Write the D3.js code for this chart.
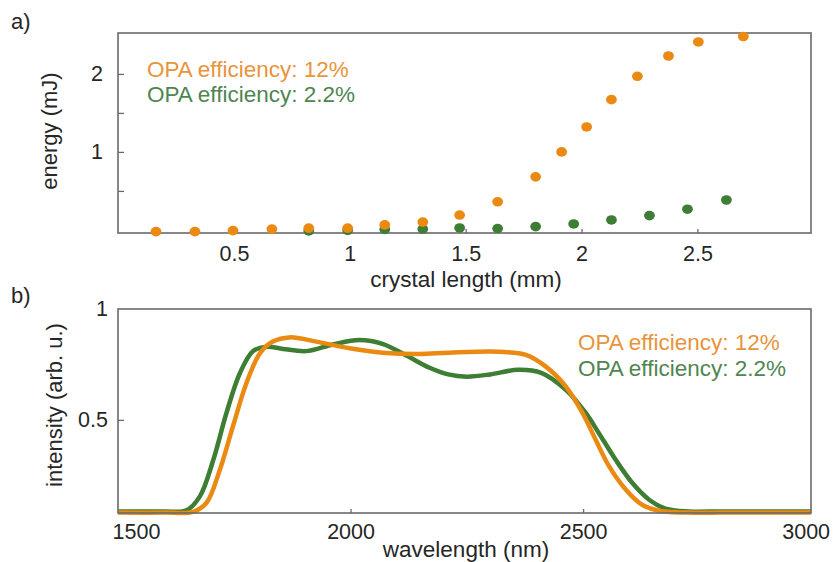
<!DOCTYPE html>
<html>
<head>
<meta charset="utf-8">
<script src="https://cdn.jsdelivr.net/npm/d3@7"></script>
<style>
  html, body { margin: 0; padding: 0; background: #fff; }
  svg { display: block; font-family: "Liberation Sans", Arial, sans-serif; }
</style>
</head>
<body>
<svg id="chart" width="833" height="562"></svg>
<script>
// ---------- Data: panel a) ----------
const lengthHigh = [0.164, 0.332, 0.496, 0.664, 0.823, 0.991, 1.151, 1.315, 1.474, 1.638, 1.802, 1.914, 2.022, 2.129, 2.241, 2.375, 2.504, 2.698];
const energyHigh = [-0.022, -0.022, -0.01, 0.01, 0.022, 0.022, 0.064, 0.10, 0.19, 0.36, 0.68, 1.0, 1.32, 1.67, 1.97, 2.23, 2.41, 2.48];
const lengthLow = [0.823, 0.991, 1.151, 1.315, 1.474, 1.638, 1.802, 1.966, 2.129, 2.293, 2.457, 2.625];
const energyLow = [-0.013, -0.006, 0.006, 0.01, 0.025, 0.017, 0.042, 0.076, 0.127, 0.183, 0.265, 0.383];
const xTicksA = [0.5, 1, 1.5, 2, 2.5];
const yTicksA = [0.5, 1, 1.5, 2];
const yLabelsA = [1, 2];

// ---------- Data: panel b) ----------
const wlHigh = [1500, 1600, 1661, 1690, 1719, 1747, 1776, 1805, 1833, 1869, 1926, 1998, 2069, 2148, 2212, 2320, 2377, 2420, 2463, 2499, 2527, 2556, 2592, 2627, 2663, 2720, 2800, 2990];
const intHigh = [0.082, 0.082, 0.085, 0.125, 0.275, 0.47, 0.665, 0.80, 0.853, 0.872, 0.853, 0.823, 0.803, 0.797, 0.803, 0.807, 0.793, 0.74, 0.65, 0.53, 0.41, 0.29, 0.185, 0.117, 0.09, 0.082, 0.082, 0.082];
const wlLow = [1500, 1600, 1647, 1676, 1705, 1733, 1762, 1790, 1819, 1855, 1905, 1962, 2019, 2070, 2120, 2170, 2210, 2250, 2300, 2360, 2410, 2463, 2506, 2534, 2570, 2606, 2642, 2677, 2727, 2800, 2990];
const intLow = [0.087, 0.087, 0.092, 0.155, 0.32, 0.53, 0.71, 0.81, 0.83, 0.82, 0.81, 0.84, 0.86, 0.842, 0.79, 0.735, 0.705, 0.695, 0.705, 0.726, 0.712, 0.635, 0.53, 0.44, 0.32, 0.215, 0.14, 0.10, 0.087, 0.087, 0.087];
const xTicksB = [1500, 2000, 2500, 3000];
const yTicksB = [0.5, 1];

const seriesNames = ["OPA efficiency: 12%", "OPA efficiency: 2.2%"];

// ---------- Style ----------
const ORANGE = "#EB8A12", GREEN = "#3E7D34";
const ORANGE_T = "#E8943A", GREEN_T = "#4F8550";
const FRAME = "#6a6a6a", TEXT = "#262626";

const svg = d3.select("#chart");

// ---------- Panel a ----------
const A = { left: 118, right: 811, top: 33, bottom: 233 };
const xA = d3.scaleLinear().domain([0, 2.99]).range([A.left, A.right]);
const yA = d3.scaleLinear().domain([-0.04, 2.525]).range([A.bottom, A.top]);

const gA = svg.append("g");
gA.append("g")
  .attr("transform", `translate(0,${A.bottom})`)
  .call(d3.axisBottom(xA).tickValues(xTicksA).tickSize(-4).tickPadding(13).tickFormat(d3.format("")))
  .call(g => g.select(".domain").remove());
gA.append("g")
  .attr("transform", `translate(${A.left},0)`)
  .call(d3.axisLeft(yA).tickValues(yTicksA).tickSize(-6).tickPadding(15)
    .tickFormat(d => yLabelsA.includes(d) ? d : ""))
  .call(g => g.select(".domain").remove());

gA.append("rect").attr("x", A.left).attr("y", A.top)
  .attr("width", A.right - A.left).attr("height", A.bottom - A.top)
  .attr("fill", "none").attr("stroke", FRAME).attr("stroke-width", 1.6);

const dotsA = gA.append("g");
dotsA.selectAll("ellipse.low").data(lengthLow.map((x, i) => [x, energyLow[i]]))
  .join("ellipse").attr("class", "low")
  .attr("cx", d => xA(d[0])).attr("cy", d => yA(d[1]))
  .attr("rx", 5.4).attr("ry", 4.8).attr("fill", GREEN);
dotsA.selectAll("ellipse.high").data(lengthHigh.map((x, i) => [x, energyHigh[i]]))
  .join("ellipse").attr("class", "high")
  .attr("cx", d => xA(d[0])).attr("cy", d => yA(d[1]))
  .attr("rx", 5.4).attr("ry", 4.8).attr("fill", ORANGE);

gA.append("text").attr("x", 147).attr("y", 77).attr("fill", ORANGE_T)
  .attr("font-size", 22.5).text(seriesNames[0]);
gA.append("text").attr("x", 147).attr("y", 102).attr("fill", GREEN_T)
  .attr("font-size", 22.5).text(seriesNames[1]);

gA.append("text").attr("x", 466).attr("y", 287)
  .attr("text-anchor", "middle").attr("font-size", 22.5).attr("fill", TEXT)
  .text("crystal length (mm)");
gA.append("text").attr("transform", `translate(57,${131}) rotate(-90)`)
  .attr("text-anchor", "middle").attr("font-size", 22).attr("fill", TEXT)
  .text("energy (mJ)");
gA.append("text").attr("x", 11).attr("y", 29).attr("font-size", 22).attr("fill", TEXT).text("a)");

// ---------- Panel b ----------
const B = { left: 118, right: 811, top: 309, bottom: 513 };
const xB = d3.scaleLinear().domain([1500, 2990]).range([B.left, B.right]);
const yB = d3.scaleLinear().domain([0.08, 1]).range([B.bottom, B.top]);

const gB = svg.append("g");
const axB = gB.append("g")
  .attr("transform", `translate(0,${B.bottom})`)
  .call(d3.axisBottom(xB).tickValues(xTicksB).tickSize(-4).tickPadding(11).tickFormat(d3.format("")))
  .call(g => g.select(".domain").remove());
axB.selectAll(".tick").filter(d => d === 1500 || d === 3000).select("line").remove();
axB.selectAll(".tick text").filter(d => d === 1500).attr("dx", 18);
axB.selectAll(".tick text").filter(d => d === 3000).attr("dx", -10);
gB.append("g")
  .attr("transform", `translate(${B.left},0)`)
  .call(d3.axisLeft(yB).tickValues(yTicksB).tickSize(-6).tickPadding(10).tickFormat(d3.format("")))
  .call(g => g.select(".domain").remove())
  .call(g => g.selectAll(".tick").filter(d => d === 1).select("line").remove());

svg.append("clipPath").attr("id", "clipB").append("rect")
  .attr("x", B.left).attr("y", B.top).attr("width", B.right - B.left).attr("height", B.bottom - B.top + 4);

const line = d3.line().x(d => xB(d[0])).y(d => yB(d[1])).curve(d3.curveCatmullRom.alpha(0.5));
const curves = gB.append("g").attr("clip-path", "url(#clipB)");
curves.append("path").datum(wlLow.map((x, i) => [x, intLow[i]]))
  .attr("d", line).attr("fill", "none").attr("stroke", GREEN).attr("stroke-width", 4.5);
curves.append("path").datum(wlHigh.map((x, i) => [x, intHigh[i]]))
  .attr("d", line).attr("fill", "none").attr("stroke", ORANGE).attr("stroke-width", 4.5);

gB.append("rect").attr("x", B.left).attr("y", B.top)
  .attr("width", B.right - B.left).attr("height", B.bottom - B.top)
  .attr("fill", "none").attr("stroke", FRAME).attr("stroke-width", 1.6);

gB.append("text").attr("x", 578).attr("y", 350).attr("fill", ORANGE_T)
  .attr("font-size", 22.5).text(seriesNames[0]);
gB.append("text").attr("x", 578).attr("y", 376).attr("fill", GREEN_T)
  .attr("font-size", 22.5).text(seriesNames[1]);

gB.append("text").attr("x", 466).attr("y", 557)
  .attr("text-anchor", "middle").attr("font-size", 22.5).attr("fill", TEXT)
  .text("wavelength (nm)");
gB.append("text").attr("transform", `translate(62,${405}) rotate(-90)`)
  .attr("text-anchor", "middle").attr("font-size", 22).attr("fill", TEXT)
  .text("intensity (arb. u.)");
gB.append("text").attr("x", 11).attr("y", 303).attr("font-size", 22).attr("fill", TEXT).text("b)");

svg.selectAll(".tick text").attr("font-size", 21.5).attr("fill", TEXT).attr("font-family", null);
svg.selectAll(".tick line").attr("stroke", FRAME).attr("stroke-width", 1.3);
</script>
</body>
</html>
